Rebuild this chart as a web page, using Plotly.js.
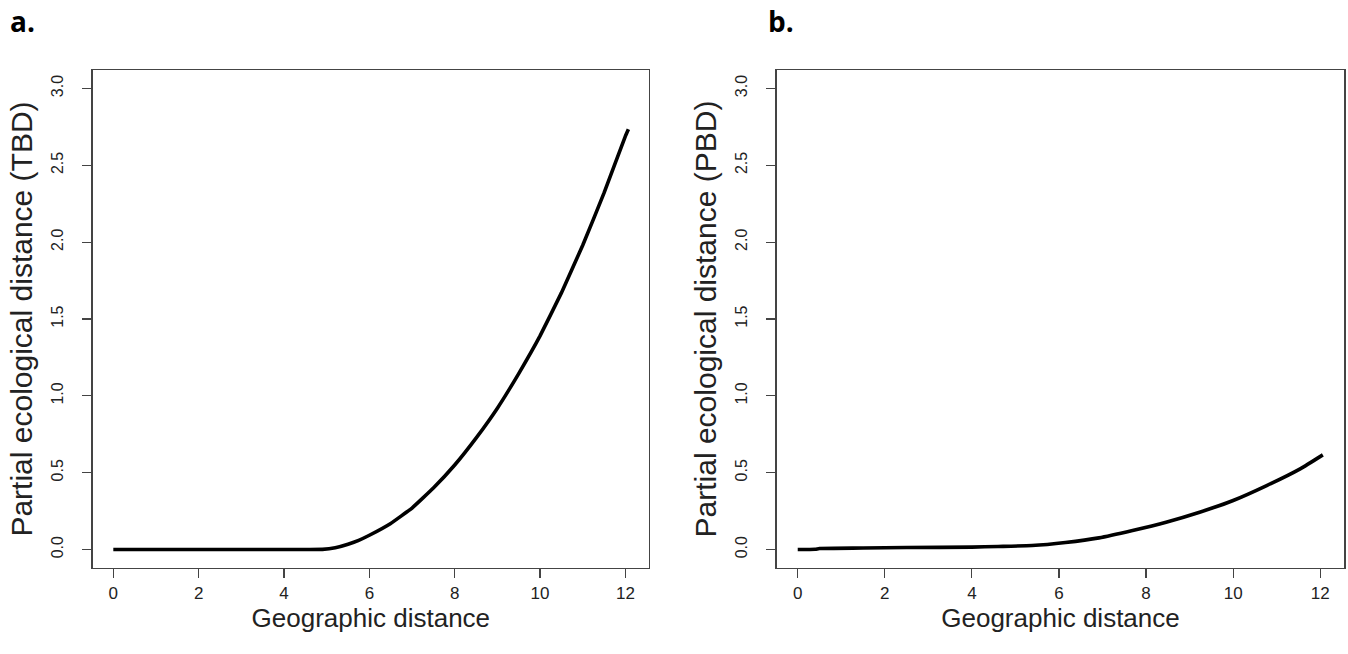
<!DOCTYPE html>
<html>
<head>
<meta charset="utf-8">
<script src="https://cdn.plot.ly/plotly-3.0.1.min.js"></script>
<style>html,body{margin:0;padding:0;background:#fff;}#chart{width:1348px;height:654px;}</style>
</head>
<body>
<div id="chart"></div>
<script>
// Panel a: TBD
const xA = [0, 1, 2, 3, 4, 4.6, 4.9, 5.2, 5.5, 5.75, 6.0, 6.5, 7.0, 7.5, 8.0, 8.5, 9.0, 9.5, 10.0, 10.5, 11.0, 11.5, 12.0, 12.07];
const yA = [0, 0, 0, 0, 0, 0, 0.001, 0.012, 0.035, 0.060, 0.093, 0.170, 0.270, 0.400, 0.550, 0.725, 0.920, 1.145, 1.390, 1.670, 1.980, 2.320, 2.690, 2.735];
// Panel b: PBD
const xB = [0, 0.4, 0.5, 1.5, 2.5, 4.0, 4.6, 5.38, 6.15, 6.92, 7.69, 8.46, 9.23, 10.0, 10.77, 11.54, 12.06];
const yB = [0, 0.002, 0.007, 0.010, 0.013, 0.016, 0.020, 0.026, 0.046, 0.076, 0.124, 0.178, 0.243, 0.319, 0.416, 0.525, 0.616];
const xTicks = [0, 2, 4, 6, 8, 10, 12];
const yTicks = [0.0, 0.5, 1.0, 1.5, 2.0, 2.5, 3.0];
const yTickText = ["0.0", "0.5", "1.0", "1.5", "2.0", "2.5", "3.0"];
const xTitle = "Geographic distance";
const yTitleA = "Partial ecological distance (TBD)";
const yTitleB = "Partial ecological distance (PBD)";
const panelLabels = ["a.", "b."];

const W = 1348, H = 654;
const txt = "#222";
const lineCol = "#444";
const fam = "Liberation Sans, Arial, sans-serif";

const traces = [
  {x: xA, y: yA, type: "scatter", mode: "lines", line: {color: "#000", width: 3.6, shape: "spline", smoothing: 0.3}, xaxis: "x", yaxis: "y", hoverinfo: "skip"},
  {x: xB, y: yB, type: "scatter", mode: "lines", line: {color: "#000", width: 3.6, shape: "spline", smoothing: 0.5}, xaxis: "x2", yaxis: "y2", hoverinfo: "skip"}
];

function xax(dom, anchor) {
  return {
    domain: dom, anchor: anchor, range: [-0.483, 12.553],
    tickmode: "array", tickvals: xTicks, ticktext: xTicks.map(String),
    ticks: "outside", ticklen: 9, tickwidth: 1.2, tickcolor: lineCol,
    showline: true, mirror: true, linecolor: lineCol, linewidth: 1.3,
    showgrid: false, zeroline: false,
    tickfont: {family: fam, size: 17, color: txt},
    ticklabelstandoff: 0,
    title: {text: xTitle, font: {family: fam, size: 26, color: txt}, standoff: 5},
    automargin: false, fixedrange: true
  };
}
function yax(dom, anchor, title) {
  return {
    domain: dom, anchor: anchor, range: [-0.12, 3.12],
    tickmode: "array", tickvals: yTicks, ticktext: yTickText, tickangle: -90,
    ticks: "outside", ticklen: 9, tickwidth: 1.2, tickcolor: lineCol,
    showline: true, mirror: true, linecolor: lineCol, linewidth: 1.3,
    showgrid: false, zeroline: false,
    tickfont: {family: fam, size: 16, color: txt},
    ticklabelstandoff: 13,
    title: {text: title, font: {family: fam, size: 30, color: txt}, standoff: 7},
    automargin: false, fixedrange: true
  };
}

const yDom = [1 - 568 / H, 1 - 70 / H];
const layout = {
  width: W, height: H,
  margin: {l: 0, r: 0, t: 0, b: 0},
  paper_bgcolor: "#fff", plot_bgcolor: "#fff",
  showlegend: false,
  xaxis: xax([92.7 / W, 649 / W], "y"),
  yaxis: yax(yDom, "x", yTitleA),
  xaxis2: xax([776.7 / W, 1344.3 / W], "y2"),
  yaxis2: yax(yDom, "x2", yTitleB),
  annotations: [
    {text: "<b>" + panelLabels[0] + "</b>", xref: "paper", yref: "paper", x: 8 / W, y: 1 - 21 / H, xanchor: "left", yanchor: "middle", showarrow: false, font: {family: "Open Sans, sans-serif", size: 28, color: "#000"}},
    {text: "<b>" + panelLabels[1] + "</b>", xref: "paper", yref: "paper", x: 766 / W, y: 1 - 21 / H, xanchor: "left", yanchor: "middle", showarrow: false, font: {family: "Open Sans, sans-serif", size: 28, color: "#000"}}
  ]
};

Plotly.newPlot("chart", traces, layout, {displayModeBar: false, staticPlot: true});
</script>
</body>
</html>
